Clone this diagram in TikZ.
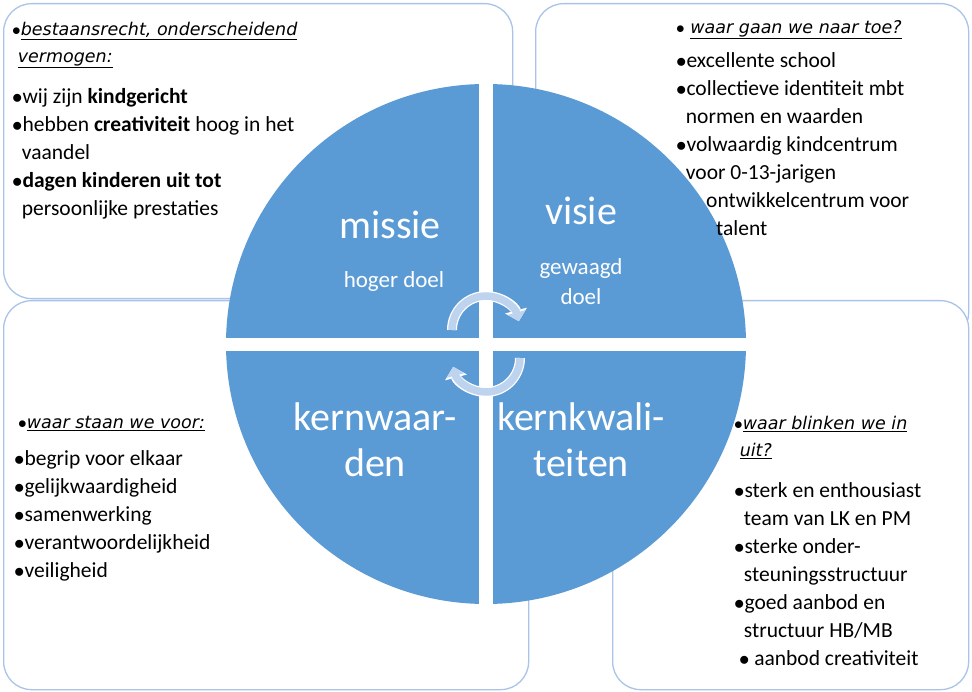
\documentclass[tikz,border=0pt]{standalone}
\usepackage{fontspec}
\setmainfont{Carlito}
\newfontfamily\hand{DejaVu Sans}
\usetikzlibrary{arrows.meta}
\definecolor{qblue}{HTML}{5B9BD5}
\definecolor{bord}{HTML}{A9C4E8}
\definecolor{arr}{HTML}{BDD3EE}
\tikzset{box/.style={draw=bord,line width=1.3pt,fill=white,rounded corners=28pt},
 txt/.style={anchor=north west,align=left,font=\fontsize{21.5}{28}\selectfont,inner sep=0pt},
 head/.style={anchor=north west,align=left,font=\hand\itshape\fontsize{17.5}{27}\selectfont,inner sep=0pt},
 big/.style={text=white,font=\fontsize{40}{46}\selectfont,align=center},
 small/.style={text=white,font=\fontsize{23}{30}\selectfont,align=center}}
\newcommand{\hl}[1]{\underline{#1}}
\begin{document}
\begin{tikzpicture}[x=1pt,y=-1pt]
\useasboundingbox (0,0) rectangle (972,692);
\fill[white] (0,0) rectangle (972,692);
\node[box,minimum width=433,minimum height=337,anchor=north west] (tr) at (535,3) {};
\node[box,minimum width=356,minimum height=389,anchor=north west] (br) at (612,300) {};
\node[box,minimum width=509,minimum height=295,anchor=north west] (tl) at (3,3) {};
\node[box,minimum width=525,minimum height=389,anchor=north west] (bl) at (3,300) {};
% circle
\coordinate (c) at (486,344);
\fill[qblue] (c) circle (260);
\fill[white] (479,70) rectangle (493,620);
\fill[white] (210,338) rectangle (760,351);
% arrows
\draw[draw=white,line width=10pt,-{Triangle[length=11pt,width=22pt]}] (452,330) arc[start angle=180,end angle=345,radius=34];
\draw[arr,line width=7.5pt,-{Triangle[length=9pt,width=18pt]}] (452,330) arc[start angle=180,end angle=345,radius=34];
\draw[draw=white,line width=10pt,-{Triangle[length=11pt,width=22pt]}] (520,358) arc[start angle=0,end angle=165,radius=34];
\draw[arr,line width=7.5pt,-{Triangle[length=9pt,width=18pt]}] (520,358) arc[start angle=0,end angle=165,radius=34];
% quadrant labels
\node[big] (m) at (390,225) {missie};
\node[small] (m2) at (394,281) {hoger doel};
\node[big] (v) at (581,211) {visie};
\node[small] (v2) at (581,282) {gewaagd\\doel};
\node[big] (k) at (375,440) {kernwaar-\\den};
\node[big] (q) at (581,440) {kernkwali-\\teiten};
% texts
\node[head] (h1) at (12,22) {$\bullet$\hl{bestaansrecht, onderscheidend}\\\ \hl{vermogen:}};
\node[txt] (t1) at (12,88) {$\bullet$wij zijn \textbf{kindgericht}\\$\bullet$hebben \textbf{creativiteit} hoog in het\\\ \ vaandel\\$\bullet$\textbf{dagen kinderen uit tot}\\\ \ persoonlijke prestaties};
\node[head] (h2) at (676,20) {$\bullet$\ \hl{waar gaan we naar toe?}};
\node[txt] (t2) at (676,52) {$\bullet$excellente school\\$\bullet$collectieve identiteit mbt\\\ \ normen en waarden\\$\bullet$volwaardig kindcentrum\\\ \ voor 0-13-jarigen\\\hspace{30pt}ontwikkelcentrum voor\\\hspace{40pt}talent};
\node[head] (h3) at (18,416) {$\bullet$\hl{waar staan we voor:}};
\node[txt] (t3) at (14,450) {$\bullet$begrip voor elkaar\\$\bullet$gelijkwaardigheid\\$\bullet$samenwerking\\$\bullet$verantwoordelijkheid\\$\bullet$veiligheid};
\node[head] (h4) at (734,416) {$\bullet$\hl{waar blinken we in}\\\ \hl{uit?}};
\node[txt] (t4) at (734,482) {$\bullet$sterk en enthousiast\\\ \ team van LK en PM\\$\bullet$sterke onder-\\\ \ steuningsstructuur\\$\bullet$goed aanbod en\\\ \ structuur HB/MB\\\ $\bullet$ aanbod creativiteit};
\end{tikzpicture}
\end{document}
